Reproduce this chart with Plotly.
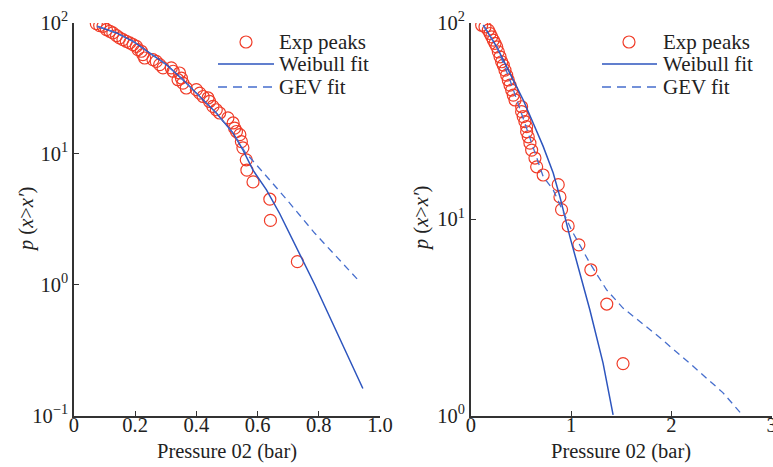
import plotly.graph_objects as go

# ---------------- Data ----------------
# Left panel
left_exp_x = [0.073, 0.084, 0.095, 0.106, 0.117, 0.127, 0.139, 0.149, 0.160, 0.171,
              0.182, 0.193, 0.204, 0.209, 0.220, 0.225, 0.231, 0.258, 0.269, 0.280,
              0.291, 0.318, 0.324, 0.345, 0.351, 0.340, 0.356, 0.367, 0.400, 0.411,
              0.422, 0.438, 0.443, 0.454, 0.465, 0.476, 0.503, 0.520, 0.525, 0.531,
              0.542, 0.547, 0.552, 0.563, 0.565, 0.585, 0.640, 0.642, 0.730]
left_exp_y = [98.8, 95.3, 94.2, 88.9, 86.3, 83.8, 79.9, 76.8, 74.5, 72.3,
              70.3, 68.2, 66.2, 62.5, 60.7, 57.2, 53.9, 52.4, 50.8, 48.0,
              45.3, 45.3, 42.7, 41.4, 37.9, 36.8, 34.7, 31.8, 30.9, 29.1,
              27.4, 26.7, 25.1, 23.0, 21.7, 20.5, 18.8, 17.2, 15.7, 14.8,
              14.0, 12.4, 11.1, 9.0, 7.5, 6.1, 4.5, 3.1, 1.5]

left_weibull_x = [0.076, 0.139, 0.193, 0.247, 0.302, 0.356, 0.411, 0.465, 0.520,
                  0.552, 0.585, 0.629, 0.672, 0.699, 0.743, 0.787, 0.944]
left_weibull_y = [94.2, 83.8, 72.3, 58.9, 48.0, 36.8, 27.4, 20.5, 14.4,
                  10.7, 7.5, 5.3, 3.5, 2.6, 1.62, 1.0, 0.161]

left_gev_x = [0.076, 0.139, 0.193, 0.247, 0.302, 0.356, 0.411, 0.465, 0.520,
              0.558, 0.640, 0.694, 0.787, 0.895, 0.931]
left_gev_y = [94.2, 83.8, 72.3, 58.9, 48.0, 36.8, 27.4, 20.5, 14.4,
              10.4, 6.3, 4.5, 2.47, 1.33, 1.07]

# Right panel
right_exp_x = [0.109, 0.142, 0.175, 0.192, 0.209, 0.225, 0.242, 0.259, 0.275, 0.292,
               0.308, 0.324, 0.341, 0.358, 0.374, 0.391, 0.408, 0.424, 0.441, 0.507,
               0.507, 0.523, 0.540, 0.557, 0.557, 0.573, 0.590, 0.607, 0.640, 0.657,
               0.722, 0.872, 0.889, 0.905, 0.971, 1.078, 1.197, 1.356, 1.518]
right_exp_y = [97.3, 95.4, 91.8, 88.3, 84.9, 81.7, 78.6, 75.5, 71.2, 67.2,
               63.4, 61.0, 57.5, 54.2, 51.2, 48.2, 45.5, 42.9, 40.5, 37.4,
               35.3, 33.3, 31.4, 29.6, 27.9, 26.3, 24.4, 22.5, 20.5, 18.5,
               16.8, 15.0, 13.0, 11.2, 9.25, 7.41, 5.53, 3.70, 1.84]

right_weibull_x = [0.125, 0.259, 0.408, 0.523, 0.623, 0.722, 0.822, 0.889, 0.988,
                   1.187, 1.319, 1.419]
right_weibull_y = [97.3, 75.5, 53.1, 40.5, 30.8, 23.5, 17.2, 13.0, 8.16,
                   3.46, 1.85, 1.01]

right_gev_x = [0.125, 0.259, 0.391, 0.623, 0.722, 0.822, 1.005, 1.187, 1.353,
               1.518, 1.851, 2.182, 2.513, 2.706]
right_gev_y = [97.3, 75.5, 51.2, 23.5, 16.5, 14.1, 8.8, 5.98, 4.38,
               3.53, 2.58, 1.85, 1.31, 1.01]

left_xticks = [0, 0.2, 0.4, 0.6, 0.8, 1.0]
left_xticktext = ["0", "0.2", "0.4", "0.6", "0.8", "1.0"]
right_xticks = [0, 1, 2, 3]
right_xticktext = ["0", "1", "2", "3"]
left_yticks = [0.1, 1, 10, 100]
left_yticktext = ["10<sup>−1</sup>", "10<sup>0</sup>", "10<sup>1</sup>", "10<sup>2</sup>"]
right_yticks = [1, 10, 100]
right_yticktext = ["10<sup>0</sup>", "10<sup>1</sup>", "10<sup>2</sup>"]

legend_labels = ["Exp peaks", "Weibull fit", "GEV fit"]
x_title = "Pressure 02 (bar)"
y_title = "<i>p</i> (<i>x</i>&gt;<i>x′</i>)"

# ---------------- Styles ----------------
RED = "rgb(240,60,40)"
BLUE = "rgb(45,85,190)"
BLUE2 = "rgb(70,110,205)"
AXC = "#333333"
TXT = "#222222"
FONT = "Liberation Serif"
FS = 20.5
LFS = 21
W, H = 773, 467

fig = go.Figure()

def add_panel(xs, ys, wx, wy, gx, gy, xa, ya):
    fig.add_trace(go.Scatter(x=xs, y=ys, mode="markers", name=legend_labels[0],
                             marker=dict(symbol="circle-open", size=12, color=RED,
                                         line=dict(width=1.2, color=RED)),
                             xaxis=xa, yaxis=ya, showlegend=False))
    fig.add_trace(go.Scatter(x=wx, y=wy, mode="lines", name=legend_labels[1],
                             line=dict(color=BLUE, width=1.5),
                             xaxis=xa, yaxis=ya, showlegend=False))
    fig.add_trace(go.Scatter(x=gx, y=gy, mode="lines", name=legend_labels[2],
                             line=dict(color=BLUE2, width=1.3, dash="7px,5px"),
                             xaxis=xa, yaxis=ya, showlegend=False))

add_panel(left_exp_x, left_exp_y, left_weibull_x, left_weibull_y,
          left_gev_x, left_gev_y, "x", "y")
add_panel(right_exp_x, right_exp_y, right_weibull_x, right_weibull_y,
          right_gev_x, right_gev_y, "x2", "y2")

# ---------------- Manual legends & titles (pixel layout -> paper coords) ----------------
def px(x):
    return x / W

def py(y):
    return 1 - y / H

shapes = []
annotations = []

def add_legend(line_x0, line_x1, circ_x, text_x, rows):
    r = 6
    shapes.append(dict(type="circle", xref="paper", yref="paper",
                       x0=px(circ_x - r), x1=px(circ_x + r),
                       y0=py(rows[0] + r), y1=py(rows[0] - r),
                       line=dict(color=RED, width=1.2)))
    shapes.append(dict(type="line", xref="paper", yref="paper",
                       x0=px(line_x0), x1=px(line_x1), y0=py(rows[1]), y1=py(rows[1]),
                       line=dict(color=BLUE, width=1.5)))
    shapes.append(dict(type="line", xref="paper", yref="paper",
                       x0=px(line_x0), x1=px(line_x1), y0=py(rows[2]), y1=py(rows[2]),
                       line=dict(color=BLUE2, width=1.3, dash="9px,6px")))
    for lab, ry in zip(legend_labels, rows):
        annotations.append(dict(text=lab, xref="paper", yref="paper",
                                x=px(text_x), y=py(ry), xanchor="left", yanchor="middle",
                                showarrow=False,
                                font=dict(family=FONT, size=LFS, color=TXT)))

add_legend(218, 274, 246, 277, [42, 64, 87])
add_legend(602, 657, 629, 661, [42, 64, 87])

def add_titles(xc, yx, ytx, yty):
    annotations.append(dict(text=x_title, xref="paper", yref="paper",
                            x=px(xc), y=py(yx), xanchor="center", yanchor="middle",
                            showarrow=False, font=dict(family=FONT, size=FS, color=TXT)))
    annotations.append(dict(text=y_title, xref="paper", yref="paper", textangle=-90,
                            x=px(ytx), y=py(yty), xanchor="center", yanchor="middle",
                            showarrow=False, font=dict(family=FONT, size=FS, color=TXT)))

add_titles(227, 451, 26, 219)
add_titles(621, 451, 421, 219)

ax_common = dict(showline=True, linecolor=AXC, linewidth=1.5, ticks="inside",
                 ticklen=5, tickcolor=AXC, tickwidth=1.2, showgrid=False,
                 zeroline=False, tickfont=dict(family=FONT, size=FS, color=TXT),
                 automargin=False, ticklabeloverflow="allow")

fig.update_layout(
    width=W, height=H,
    margin=dict(l=0, r=0, t=0, b=0),
    paper_bgcolor="white", plot_bgcolor="white",
    font=dict(family=FONT, size=FS, color=TXT),
    showlegend=False,
    shapes=shapes,
    annotations=annotations,
    xaxis=dict(domain=[0.0957, 0.4916], range=[0, 1.0], tickvals=left_xticks,
               ticktext=left_xticktext, anchor="y", ticklabelstandoff=-10,
               **ax_common),
    yaxis=dict(domain=[0.110, 0.951], type="log", range=[-1, 2], tickvals=left_yticks,
               ticktext=left_yticktext, anchor="x",
               **ax_common),
    xaxis2=dict(domain=[0.609, 0.9983], range=[0, 3], tickvals=right_xticks,
                ticktext=right_xticktext, anchor="y2", ticklabelstandoff=-10,
                **ax_common),
    yaxis2=dict(domain=[0.110, 0.951], type="log", range=[0, 2], tickvals=right_yticks,
                ticktext=right_yticktext, anchor="x2",
                **ax_common),
)

fig.write_html("out.html")
